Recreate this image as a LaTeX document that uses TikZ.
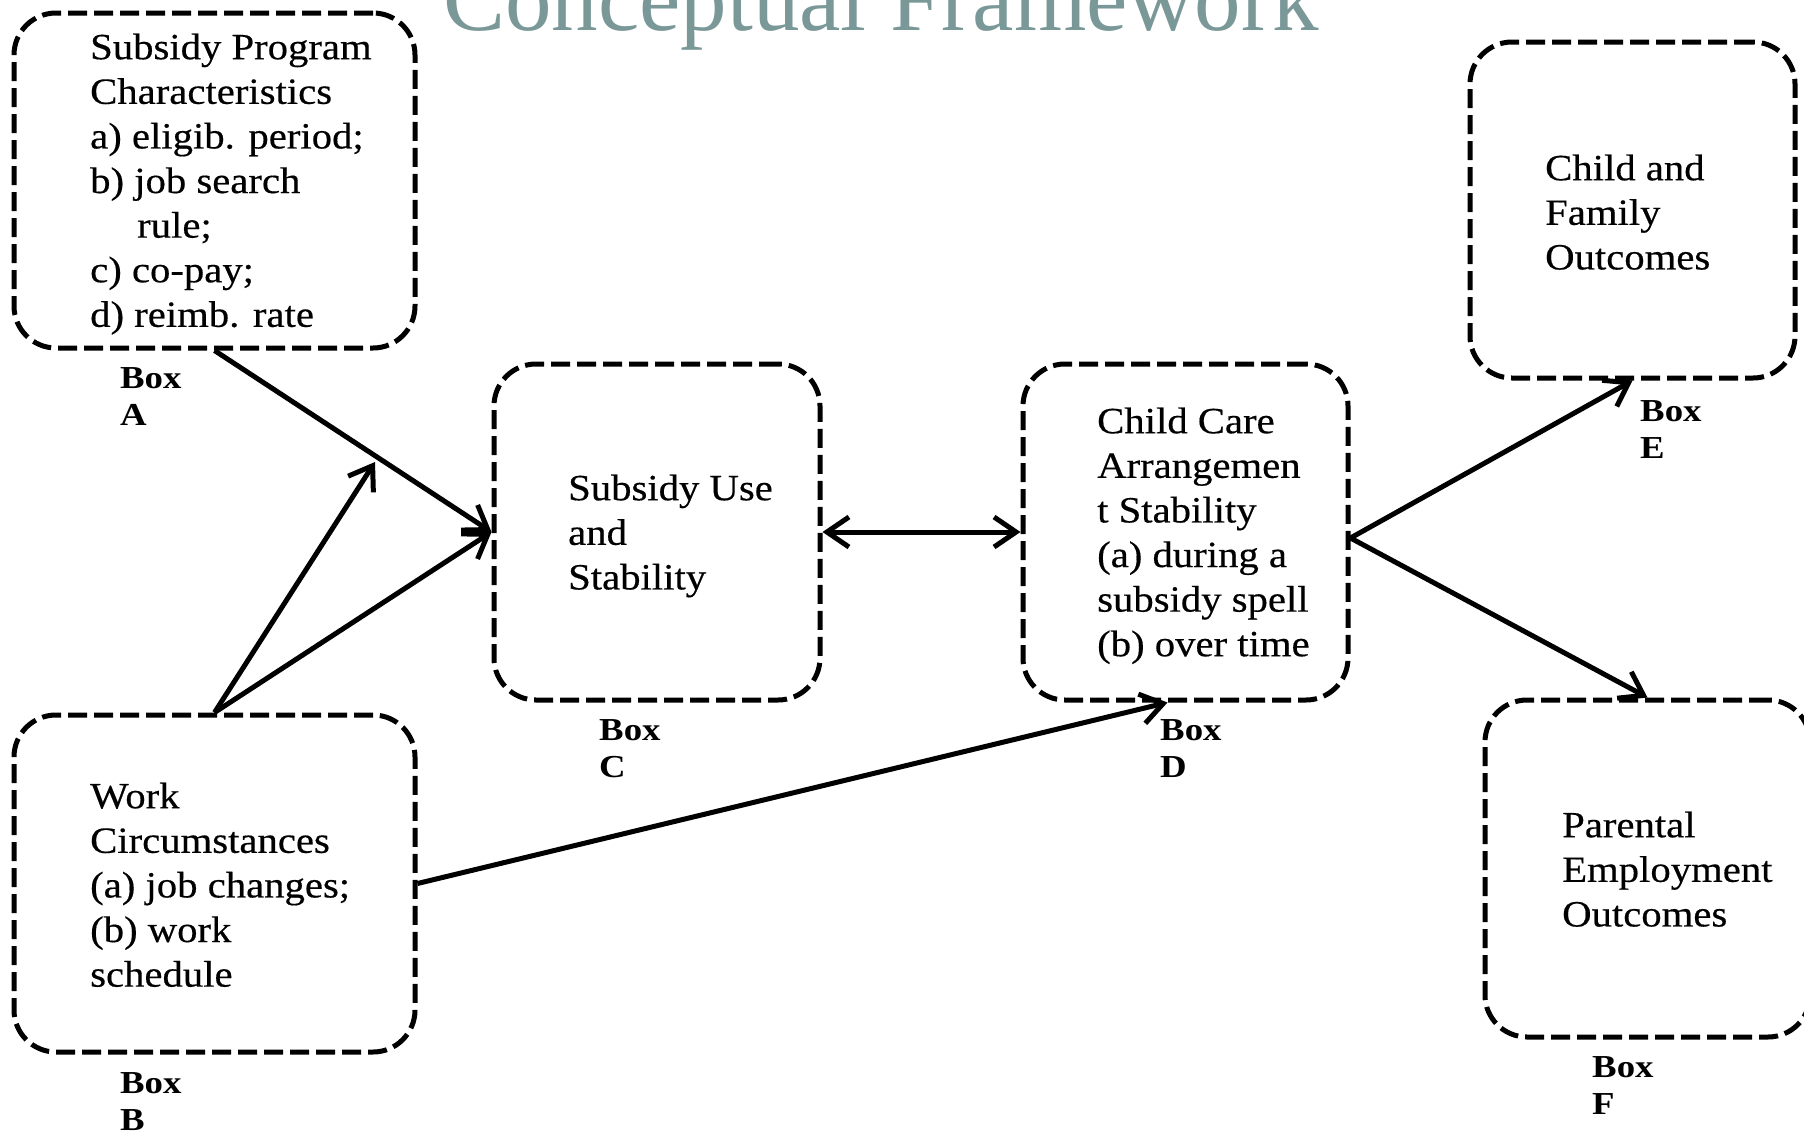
\documentclass[tikz,border=0pt]{standalone}
\usepackage{fontspec}
\setmainfont{Liberation Serif}[FakeStretch=1.1,FakeBold=0.4]
\newfontfamily\lblfont{Liberation Serif}[FakeStretch=1.15]
\newfontfamily\titlefont{Liberation Serif}
\usetikzlibrary{arrows.meta}
\definecolor{titlecol}{HTML}{7A9898}
\begin{document}
\begin{tikzpicture}[x=1pt,y=-1pt,
  bx/.style={draw, line width=5pt, dash pattern=on 19pt off 7pt, rounded corners=42pt, inner sep=0pt},
  txt/.style={anchor=north west, inner sep=0pt, align=left, font=\fontsize{37}{44.6}\selectfont},
  lbl/.style={anchor=north west, inner sep=0pt, align=left, font=\lblfont\bfseries\fontsize{32}{37}\selectfont},
  barb/.tip={Straight Barb[length=22pt,width=30pt]},
  conn/.style={line width=5pt, -barb},
  conntwo/.style={line width=5pt, barb-barb}]
\useasboundingbox (0,0) rectangle (1804,1133);

% title
\node[anchor=base west, inner sep=0pt, text=titlecol, font=\titlefont\fontsize{93}{100}\selectfont] (title) at (443,30) {Conceptual Framework};

% boxes
\node[bx, minimum width=401pt, minimum height=335pt] (A) at (214.5,180.5) {};
\node[bx, minimum width=401pt, minimum height=337pt] (B) at (214.5,883.5) {};
\node[bx, minimum width=326pt, minimum height=336pt] (C) at (657,532) {};
\node[bx, minimum width=325pt, minimum height=336pt] (D) at (1185.5,532) {};
\node[bx, minimum width=325pt, minimum height=336pt] (E) at (1632.5,210) {};
\node[bx, minimum width=325pt, minimum height=337pt] (F) at (1647.5,868.5) {};

% texts
\node[txt] (Atxt) at (90,27.8) {\strut Subsidy Program\\Characteristics\\a) eligib. period;\\b) job search\\\hspace*{47pt}rule;\\c) co-pay;\\d) reimb. rate};
\node[txt] (Btxt) at (90,776.8) {\strut Work\\Circumstances\\(a) job changes;\\(b) work\\schedule};
\node[txt] (Ctxt) at (568,468.8) {\strut Subsidy Use\\and\\Stability};
\node[txt] (Dtxt) at (1097,401.8) {\strut Child Care\\Arrangemen\\t Stability\\(a) during a\\subsidy spell\\(b) over time};
\node[txt] (Etxt) at (1545,148.8) {\strut Child and\\Family\\Outcomes};
\node[txt] (Ftxt) at (1562,805.8) {\strut Parental\\Employment\\Outcomes};

% labels
\node[lbl] (Albl) at (120,362.1) {\strut Box\\A};
\node[lbl] (Blbl) at (120,1067.1) {\strut Box\\B};
\node[lbl] (Clbl) at (599,714.1) {\strut Box\\C};
\node[lbl] (Dlbl) at (1160,714.1) {\strut Box\\D};
\node[lbl] (Elbl) at (1640,395.1) {\strut Box\\E};
\node[lbl] (Flbl) at (1592,1051.1) {\strut Box\\F};

% connectors
\coordinate (Btip) at (375,462);
\draw[conn] (A.south) -- (C.west);
\draw[conn] (B.north) -- (Btip);
\draw[conn] (B.north) -- (C.west);
\draw[conn] (B.east) -- ([xshift=-18pt]D.south);
\draw[conntwo] (C.east) -- (D.west);
\draw[conn] ([yshift=-6pt]D.east) -- (E.south);
\draw[conn] ([yshift=-6pt]D.east) -- (F.north);
\end{tikzpicture}
\end{document}
